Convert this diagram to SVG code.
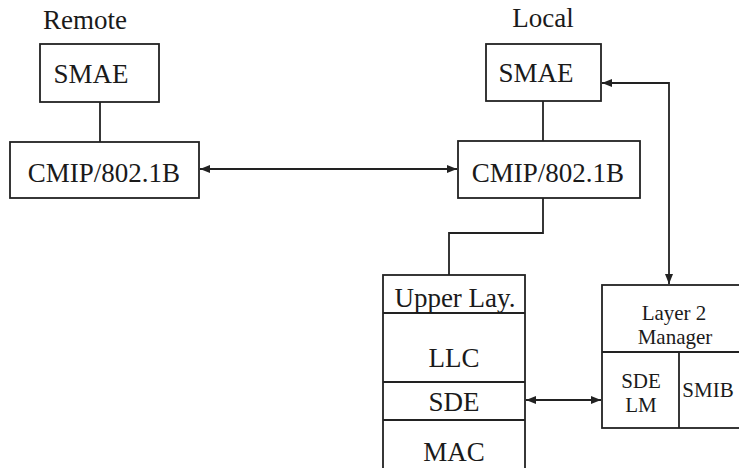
<svg xmlns="http://www.w3.org/2000/svg" width="739" height="468" viewBox="0 0 739 468">
<defs>
<marker id="ah" viewBox="0 0 10 8" refX="10" refY="4" markerWidth="10" markerHeight="8" markerUnits="userSpaceOnUse" orient="auto-start-reverse">
<path d="M0,0 L10,4 L0,8 Z" fill="#222"/>
</marker>
</defs>
<style>
.box, .d { fill: none; stroke: #222; stroke-width: 1.8; }
.c { fill: none; stroke: #222; stroke-width: 1.8; }
text { font-family: "Liberation Serif", "Times New Roman", serif; fill: #1a1a1a; text-anchor: middle; }
.b { font-size: 27px; }
.s { font-size: 21px; }
</style>
<rect x="0" y="0" width="739" height="468" fill="#fff"/>
<text class="b" x="85" y="29">Remote</text>
<text class="b" x="543" y="27">Local</text>
<g id="remote-smae">
<rect class="box" x="40" y="44" width="119" height="58"/>
<text class="b" x="91" y="83">SMAE</text>
</g>
<g id="remote-cmip">
<rect class="box" x="10" y="142" width="189" height="56"/>
<text class="b" x="104" y="182">CMIP/802.1B</text>
</g>
<g id="local-smae">
<rect class="box" x="486" y="44" width="115" height="57"/>
<text class="b" x="536" y="82">SMAE</text>
</g>
<g id="local-cmip">
<rect class="box" x="458" y="141" width="182" height="57"/>
<text class="b" x="548" y="182">CMIP/802.1B</text>
</g>
<g id="layer-stack">
<rect class="box" x="383" y="275" width="142" height="200"/>
<line class="d" x1="383" y1="313" x2="525" y2="313"/>
<line class="d" x1="383" y1="382" x2="525" y2="382"/>
<line class="d" x1="383" y1="420" x2="525" y2="420"/>
<text class="b" x="455" y="307">Upper Lay.</text>
<text class="b" x="454" y="367">LLC</text>
<text class="b" x="454" y="411">SDE</text>
<text class="b" x="454" y="461">MAC</text>
</g>
<g id="layer2-manager">
<rect class="box" x="602" y="285" width="146" height="143"/>
<line class="d" x1="602" y1="352" x2="748" y2="352"/>
<line class="d" x1="679" y1="352" x2="679" y2="428"/>
<text class="s" x="674" y="320">Layer 2</text>
<text class="s" x="675" y="344">Manager</text>
<text class="s" x="641" y="388">SDE</text>
<text class="s" x="641" y="412">LM</text>
<text class="s" x="708" y="397">SMIB</text>
</g>
<g id="connectors">
<line class="c" x1="100" y1="102" x2="100" y2="142"/>
<line class="c" x1="200" y1="169" x2="457" y2="169" marker-start="url(#ah)" marker-end="url(#ah)"/>
<line class="c" x1="543" y1="101" x2="543" y2="141"/>
<polyline class="c" points="543,198 543,233 449,233 449,275"/>
<polyline class="c" points="602,83 669,83 669,284" marker-start="url(#ah)" marker-end="url(#ah)"/>
<line class="c" x1="526" y1="400" x2="601" y2="400" marker-start="url(#ah)" marker-end="url(#ah)"/>
</g>
</svg>
